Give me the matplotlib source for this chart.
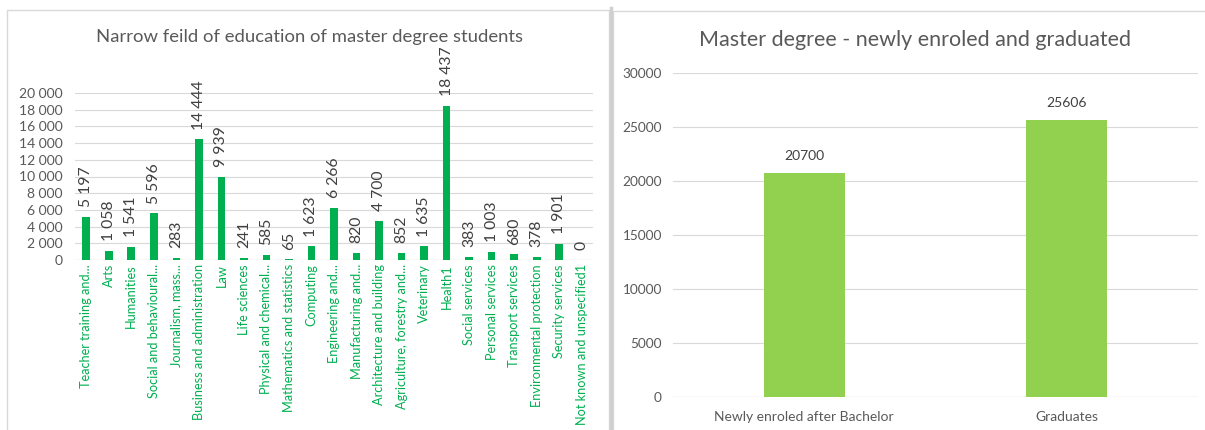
import matplotlib
matplotlib.use("Agg")
import matplotlib.pyplot as plt
from matplotlib.patches import Rectangle
from matplotlib.lines import Line2D

plt.rcParams["font.family"] = ["Lato", "DejaVu Sans"]

# Narrow fields of education (master degree students)
fields = [
    "Teacher training and...", "Arts", "Humanities", "Social and behavioural...",
    "Journalism, mass...", "Business and administration", "Law", "Life sciences",
    "Physical and chemical...", "Mathematics and statistics", "Computing",
    "Engineering and...", "Manufacturing and...", "Architecture and building",
    "Agriculture, forestry and...", "Veterinary", "Health1", "Social services",
    "Personal services", "Transport services", "Environmental protection",
    "Security services", "Not known and unspecified1",
]
field_students = [5197, 1058, 1541, 5596, 283, 14444, 9939, 241, 585, 65, 1623,
                  6266, 820, 4700, 852, 1635, 18437, 383, 1003, 680, 378, 1901, 0]
field_ticks = list(range(0, 20001, 2000))

# Newly enrolled vs graduated
groups = ["Newly enroled after Bachelor", "Graduates"]
group_counts = [20700, 25606]
group_ticks = list(range(0, 30001, 5000))

W, H = 1205, 430
fig = plt.figure(figsize=(W / 100, H / 100), dpi=100)
fig.patch.set_facecolor("white")

TEXT = "#595959"
GRID = "#d9d9d9"
DARK_GREEN = "#00b050"
LIGHT_GREEN = "#92d050"


def box(x0, y0, x1, y1):
    """Axes rectangle from pixel coordinates (origin top-left)."""
    return [x0 / W, 1 - y1 / H, (x1 - x0) / W, (y1 - y0) / H]


def space_thousands(v):
    return f"{v:,}".replace(",", " ")


# Panel frames
fig.add_artist(Rectangle((7 / W, -0.01), (602 / W), 1 - 10 / H + 0.01,
                         transform=fig.transFigure, fill=False,
                         edgecolor=GRID, linewidth=1.0))
fig.add_artist(Rectangle((613 / W, -0.01), (600 / W), 1 - 11 / H + 0.01,
                         transform=fig.transFigure, fill=False,
                         edgecolor=GRID, linewidth=1.0))
fig.add_artist(Line2D([611 / W, 611 / W], [0, 1 - 8 / H],
                      transform=fig.transFigure, color="#d0d0d0", linewidth=2.5))

# ---- Left chart ----
ax1 = fig.add_axes(box(75, 93, 593, 260))
x1 = range(len(fields))
ax1.bar(x1, field_students, width=0.34, color=DARK_GREEN, zorder=3)
ax1.set_xlim(-0.5, len(fields) - 0.5)
ax1.set_ylim(0, 20000)
ax1.set_yticks(field_ticks)
ax1.set_yticklabels([space_thousands(t) for t in field_ticks],
                    fontsize=10, color=TEXT)
ax1.set_xticks(list(x1))
ax1.set_xticklabels(fields, rotation=90, fontsize=9.2, color=DARK_GREEN,
                    va="top", ha="center")
ax1.tick_params(axis="both", length=0)
ax1.tick_params(axis="y", pad=9)
ax1.tick_params(axis="x", pad=3)
ax1.grid(axis="y", color=GRID, linewidth=0.8, zorder=0)
for s in ax1.spines.values():
    s.set_visible(False)
ax1.axhline(0, color=GRID, linewidth=0.9, zorder=2)
for xi, v in zip(x1, field_students):
    ax1.annotate(space_thousands(v), (xi, v), xytext=(0, 7),
                 textcoords="offset points", rotation=90, ha="center",
                 va="bottom", fontsize=11.3, color="#404040")
fig.text(310 / W, 1 - 37 / H, "Narrow feild of education of master degree students",
         ha="center", va="center", fontsize=13.3, color=TEXT)

# ---- Right chart ----
ax2 = fig.add_axes(box(673, 73, 1198, 397))
x2 = range(len(groups))
ax2.bar(x2, group_counts, width=0.31, color=LIGHT_GREEN, zorder=3)
ax2.set_xlim(-0.5, len(groups) - 0.5)
ax2.set_ylim(0, 30000)
ax2.set_yticks(group_ticks)
ax2.set_yticklabels([str(t) for t in group_ticks], fontsize=9.8, color=TEXT)
ax2.set_xticks(list(x2))
ax2.set_xticklabels(groups, fontsize=10, color=TEXT)
ax2.tick_params(axis="both", length=0)
ax2.tick_params(axis="y", pad=8)
ax2.tick_params(axis="x", pad=10)
ax2.grid(axis="y", color=GRID, linewidth=0.8, zorder=0)
for s in ax2.spines.values():
    s.set_visible(False)
ax2.axhline(0, color=GRID, linewidth=0.9, zorder=2)
for xi, v in zip(x2, group_counts):
    ax2.annotate(str(v), (xi, v), xytext=(0, 8), textcoords="offset points",
                 ha="center", va="bottom", fontsize=10, color="#404040")
fig.text(915 / W, 1 - 40 / H, "Master degree - newly enroled and graduated",
         ha="center", va="center", fontsize=15.5, color=TEXT)

fig.savefig("out.png", dpi=100, facecolor="white")
